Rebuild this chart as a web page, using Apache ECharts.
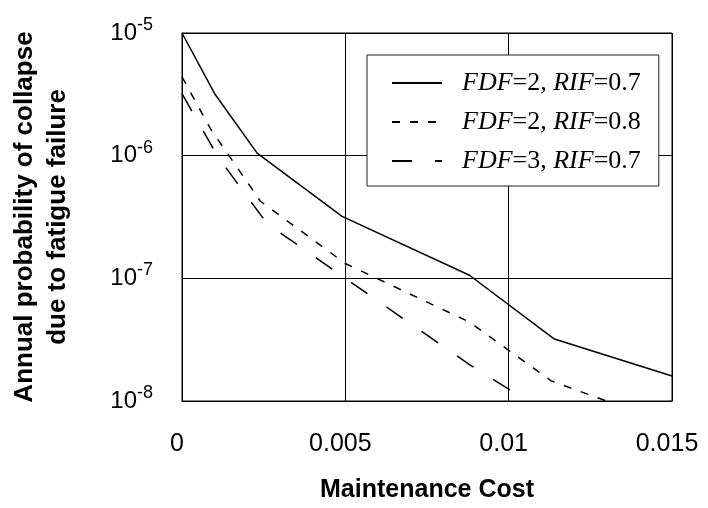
<!DOCTYPE html>
<html>
<head>
<meta charset="utf-8">
<script src="https://cdn.jsdelivr.net/npm/echarts@6/dist/echarts.min.js"></script>
<style>
html,body{margin:0;padding:0;background:#fff;}
#chart{width:708px;height:508px;}
</style>
</head>
<body>
<div id="chart"></div>
<script>
// ---- data ----
const seriesNames = ['FDF=2, RIF=0.7', 'FDF=2, RIF=0.8', 'FDF=3, RIF=0.7'];
const costA = [0, 0.001, 0.0023, 0.0049, 0.0088, 0.0114, 0.015];
const probA = [1e-5, 3.2e-6, 1.05e-6, 3.2e-7, 1.06e-7, 3.2e-8, 1.6e-8];
const costB = [0, 0.00087, 0.0024, 0.005, 0.0088, 0.0113, 0.015];
const probB = [4.4e-6, 1.66e-6, 4.25e-7, 1.32e-7, 4.4e-8, 1.46e-8, 6.4e-9];
const costC = [0, 0.0011, 0.0026, 0.005, 0.0088, 0.0114, 0.015];
const probC = [3.2e-6, 9.8e-7, 2.8e-7, 1.0e-7, 1.98e-8, 7.3e-9, 2.5e-9];
const xTickLabels = ['0', '0.005', '0.01', '0.015'];
const yTickExponents = ['-8', '-7', '-6', '-5'];

function pairs(xs, ys) { return xs.map((x, i) => [x, ys[i]]); }

const chart = echarts.init(document.getElementById('chart'), null, {renderer: 'canvas'});
const sans = 'Liberation Sans, Arial, sans-serif';
const serif = 'Liberation Serif, Times New Roman, serif';

function legendFmt(name) {
  const m = name.match(/^(FDF)(=\d, )(RIF)(=[\d.]+)$/);
  if (!m) return name;
  return '{i|' + m[1] + '}{r|' + m[2] + '}{i|' + m[3] + '}{r|' + m[4] + '}';
}

const lineStyles = [
  {color: '#000', width: 1.5, type: 'solid'},
  {color: '#000', width: 1.5, type: [8, 10]},
  {color: '#000', width: 1.5, type: [20, 23]}
];
const datas = [pairs(costA, probA), pairs(costB, probB), pairs(costC, probC)];

chart.setOption({
  animation: false,
  backgroundColor: '#fff',
  grid: {left: 180, top: 33, width: 492, height: 369, show: true, borderColor: '#000', borderWidth: 1, backgroundColor: 'transparent'},
  legend: {
    orient: 'vertical',
    left: 367, top: 55,
    padding: [15, 18, 12, 24],
    itemWidth: 50, itemHeight: 20, itemGap: 13,
    borderColor: '#222', borderWidth: 1,
    backgroundColor: '#fff',
    selectedMode: false,
    formatter: legendFmt,
    itemStyle: {opacity: 0},
    textStyle: {
      padding: [0, 0, 0, 15],
      rich: {
        i: {fontFamily: serif, fontStyle: 'italic', fontSize: 26, color: '#000'},
        r: {fontFamily: serif, fontSize: 26, color: '#000'}
      }
    },
    data: seriesNames
  },
  xAxis: {
    type: 'value', min: 0, max: 0.015, interval: 0.005,
    name: 'Maintenance Cost', nameLocation: 'middle', nameGap: 77,
    nameTextStyle: {fontFamily: sans, fontSize: 25, fontWeight: 'bold', color: '#000'},
    axisLine: {show: true, lineStyle: {color: '#000', width: 1}},
    axisTick: {show: false},
    axisLabel: {
      fontFamily: sans, fontSize: 25, color: '#000', margin: 31,
      padding: [0, 10, 0, 0],
      formatter: function (v) { const i = Math.round(v / 0.005); return xTickLabels[i] !== undefined ? xTickLabels[i] : ''; }
    },
    splitLine: {show: true, lineStyle: {color: '#000', width: 1}}
  },
  yAxis: {
    type: 'log', logBase: 10, min: 1e-8, max: 1e-5,
    name: 'Annual probability of collapse\ndue to fatigue failure',
    nameLocation: 'middle', nameGap: 108,
    nameTextStyle: {fontFamily: sans, fontSize: 26, fontWeight: 'bold', color: '#000', lineHeight: 33, align: 'center'},
    axisLine: {show: true, lineStyle: {color: '#000', width: 1}},
    axisTick: {show: false},
    axisLabel: {
      margin: 29,
      formatter: function (v) {
        const e = Math.round(Math.log10(v));
        const idx = e + 8;
        const ex = yTickExponents[idx] !== undefined ? yTickExponents[idx] : String(e);
        return '{b|10}{s|' + ex + '}';
      },
      rich: {
        b: {fontFamily: sans, fontSize: 24, color: '#000', lineHeight: 36, verticalAlign: 'middle'},
        s: {fontFamily: sans, fontSize: 18, color: '#000', lineHeight: 18, verticalAlign: 'top', padding: [1, 0, 0, 0]}
      }
    },
    splitLine: {show: true, lineStyle: {color: '#000', width: 1}}
  },
  series: seriesNames.map((n, k) => ({
    name: n, type: 'line', data: datas[k],
    symbol: 'none', showSymbol: false, smooth: false, clip: true,
    lineStyle: lineStyles[k], itemStyle: {color: '#000'}
  }))
});
</script>
</body>
</html>
